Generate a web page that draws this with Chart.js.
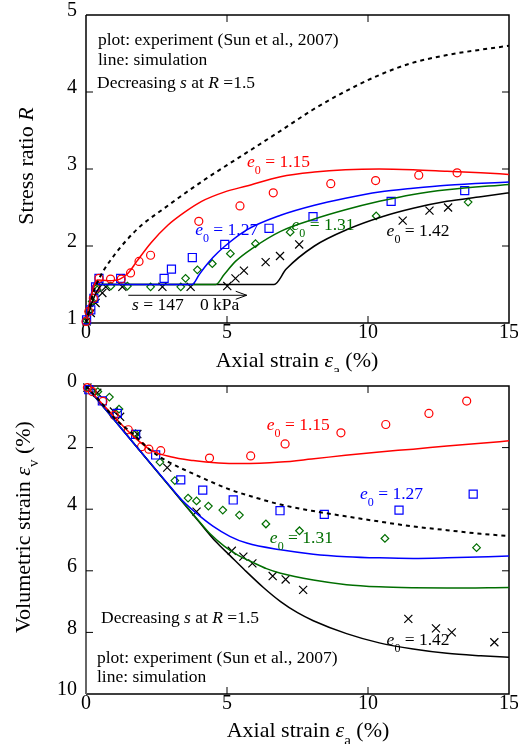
<!DOCTYPE html>
<html lang="en">
<head>
<meta charset="UTF-8">
<title>Stress ratio and volumetric strain vs axial strain</title>
<script src="https://cdn.jsdelivr.net/npm/chart.js@4.4.0/dist/chart.umd.min.js"></script>
<style>
    body { margin: 0; background: #fff; }
    #wrap { position: relative; width: 518px; height: 744px; }
    canvas { position: absolute; left: 0; }
    #topChart { top: 0; }
    #botChart { top: 372px; }
</style>
</head>
<body>
<div id="wrap">
    <canvas id="topChart" width="518" height="372"></canvas>
    <canvas id="botChart" width="518" height="372"></canvas>
</div>
<script>
// axis ticks
const strainTicks = [0, 5, 10, 15];
const rTicks = [1, 2, 3, 4, 5];
const evTicks = [0, 2, 4, 6, 8, 10];

// ---- top panel: stress ratio R, experiment (Sun et al., 2007) ----
const topRedX = [0, 0.1, 0.26, 0.35, 0.46, 0.87, 1.25, 1.58, 1.88, 2.29, 4.0, 5.46, 6.64, 8.68, 10.27, 11.8, 13.16];
const topRedY = [1.02, 1.15, 1.32, 1.45, 1.58, 1.57, 1.57, 1.65, 1.8, 1.88, 2.32, 2.52, 2.69, 2.81, 2.85, 2.92, 2.95];
const topBlueX = [0.02, 0.17, 0.28, 0.34, 0.46, 1.23, 2.77, 3.03, 3.77, 4.92, 6.49, 8.05, 10.82, 13.43];
const topBlueY = [1.04, 1.17, 1.32, 1.47, 1.58, 1.58, 1.58, 1.7, 1.85, 2.02, 2.23, 2.38, 2.58, 2.72];
const topGreenX = [0.02, 0.11, 0.22, 0.4, 0.88, 1.47, 2.29, 3.36, 3.53, 3.95, 4.48, 5.12, 6.01, 7.24, 10.29, 13.55];
const topGreenY = [1.03, 1.15, 1.28, 1.43, 1.48, 1.48, 1.47, 1.47, 1.58, 1.69, 1.77, 1.9, 2.03, 2.18, 2.39, 2.57];
const topBlackX = [0.02, 0.17, 0.34, 0.58, 0.7, 1.29, 2.71, 3.71, 5.01, 5.3, 5.6, 6.37, 6.88, 7.56, 11.23, 12.18, 12.84];
const topBlackY = [1.02, 1.13, 1.26, 1.39, 1.47, 1.47, 1.47, 1.47, 1.48, 1.58, 1.68, 1.79, 1.87, 2.02, 2.33, 2.46, 2.5];

// top panel, simulation
const topRedLineX = [0, 0.15, 0.4, 0.8, 1.2, 1.5, 1.8, 2.3, 2.9, 3.5, 4.1, 4.9, 5.7, 6.9, 8.1, 9.2, 10.4, 11.6, 12.8, 14, 15];
const topRedLineY = [1, 1.3, 1.56, 1.55, 1.57, 1.65, 1.8, 2.04, 2.27, 2.44, 2.58, 2.7, 2.78, 2.9, 2.96, 2.99, 3.0, 2.99, 2.97, 2.95, 2.93];
const topBlueLineX = [0, 0.15, 0.3, 0.5, 3.76, 4.0, 4.2, 4.5, 4.9, 5.7, 6.9, 8.1, 9.2, 10.4, 11.6, 12.8, 15];
const topBlueLineY = [1, 1.3, 1.52, 1.5, 1.5, 1.62, 1.72, 1.85, 1.99, 2.21, 2.4, 2.53, 2.62, 2.7, 2.75, 2.79, 2.83];
const topGreenLineX = [0, 0.15, 0.3, 0.5, 4.6, 4.9, 5.3, 5.9, 6.9, 8.1, 9.2, 10.4, 11.6, 12.8, 15];
const topGreenLineY = [1, 1.28, 1.48, 1.5, 1.5, 1.63, 1.8, 1.97, 2.19, 2.35, 2.47, 2.58, 2.67, 2.73, 2.8];
const topBlackLineX = [0, 0.2, 0.4, 0.6, 6.67, 7.1, 8.1, 9.3, 10.5, 11.6, 12.8, 14, 15];
const topBlackLineY = [1, 1.25, 1.42, 1.5, 1.5, 1.7, 2.0, 2.22, 2.38, 2.49, 2.58, 2.64, 2.69];
const topDashX = [0, 0.25, 0.5, 1, 1.5, 2, 2.7, 3.3, 4.2, 5, 5.9, 7, 8, 9, 10.4, 11.5, 12.8, 14, 15];
const topDashY = [1, 1.38, 1.6, 1.88, 2.1, 2.28, 2.47, 2.63, 2.86, 3.05, 3.26, 3.52, 3.76, 3.97, 4.22, 4.37, 4.48, 4.55, 4.6];

// ---- bottom panel: volumetric strain, experiment ----
const botRedX = [0.05, 0.22, 0.6, 1.0, 1.5, 1.97, 2.23, 2.65, 4.38, 5.84, 7.06, 9.04, 10.63, 12.16, 13.5];
const botRedY = [0.05, 0.18, 0.5, 0.95, 1.42, 1.97, 2.05, 2.1, 2.34, 2.27, 1.88, 1.52, 1.25, 0.89, 0.49];
const botBlueX = [0.1, 0.58, 1.11, 1.76, 2.47, 3.36, 4.14, 5.22, 6.88, 8.45, 11.1, 13.73];
const botBlueY = [0.12, 0.48, 0.89, 1.57, 2.24, 3.05, 3.38, 3.7, 4.05, 4.17, 4.03, 3.51];
const botGreenX = [0.1, 0.42, 0.83, 1.17, 1.76, 2.62, 3.15, 3.62, 3.92, 4.34, 4.85, 5.44, 6.38, 7.57, 10.6, 13.85];
const botGreenY = [0.08, 0.18, 0.36, 0.75, 1.55, 2.47, 3.07, 3.64, 3.73, 3.9, 4.03, 4.19, 4.48, 4.7, 4.95, 5.25];
const botBlackX = [0.05, 0.4, 0.99, 1.21, 1.82, 2.88, 3.92, 5.17, 5.58, 5.9, 6.62, 7.08, 7.7, 11.43, 12.41, 12.97, 14.48];
const botBlackY = [0.05, 0.22, 0.83, 1.0, 1.56, 2.65, 4.08, 5.35, 5.54, 5.76, 6.17, 6.28, 6.62, 7.56, 7.87, 8.0, 8.32];

// bottom panel, simulation
const botRedLineX = [0, 0.5, 1.1, 1.7, 2.3, 3.0, 3.8, 4.7, 5.5, 6.9, 8.0, 9.2, 10.4, 11.6, 12.8, 14, 15];
const botRedLineY = [0, 0.5, 1.1, 1.65, 2.08, 2.3, 2.42, 2.5, 2.52, 2.47, 2.37, 2.25, 2.14, 2.05, 1.95, 1.86, 1.78];
const botBlueLineX = [0, 1, 2, 3, 3.4, 3.9, 4.5, 5.1, 5.7, 6.9, 8.06, 9.24, 10.4, 11.6, 12.8, 15];
const botBlueLineY = [0, 1.1, 2.2, 3.28, 3.7, 4.12, 4.55, 4.88, 5.1, 5.32, 5.46, 5.54, 5.58, 5.6, 5.58, 5.52];
const botGreenLineX = [0, 1, 2, 3, 4, 4.4, 4.9, 5.4, 5.9, 6.4, 6.9, 8.06, 9.24, 10.4, 11.6, 12.8, 15];
const botGreenLineY = [0, 1.1, 2.2, 3.3, 4.38, 4.8, 5.2, 5.5, 5.72, 5.93, 6.08, 6.3, 6.45, 6.52, 6.55, 6.56, 6.54];
const botBlackLineX = [0, 1, 2, 3, 4, 4.6, 5.1, 5.6, 6.3, 6.9, 7.5, 8.06, 9.24, 10.4, 11.6, 12.8, 14, 15];
const botBlackLineY = [0, 1.1, 2.2, 3.3, 4.4, 5.05, 5.5, 5.95, 6.55, 7.0, 7.36, 7.62, 8.04, 8.34, 8.54, 8.68, 8.76, 8.81];
const botDashX = [0, 0.5, 1.1, 1.6, 2.3, 2.9, 3.9, 5.1, 6.0, 6.9, 8.0, 9.2, 10.4, 11.6, 12.8, 14, 15];
const botDashY = [0, 0.5, 1.13, 1.5, 2.1, 2.45, 2.89, 3.36, 3.62, 3.85, 4.05, 4.23, 4.4, 4.56, 4.68, 4.8, 4.87];

const SERIF = '"Liberation Serif", "Times New Roman", serif';
const RED = '#ff0000', BLUE = '#0000ff', GREEN = '#006e00', BLACK = '#000000';

const pts = (xs, ys) => xs.map((x, i) => ({ x: x, y: ys[i] }));

function marks(xs, ys, color, style, radius) {
    return {
        data: pts(xs, ys), showLine: false, pointStyle: style, pointRadius: radius,
        borderColor: color, backgroundColor: 'rgba(0,0,0,0)', borderWidth: 1.2, clip: 10
    };
}

function curve(xs, ys, color, dashed) {
    return {
        data: pts(xs, ys), showLine: true, borderColor: color, borderWidth: dashed ? 2 : 1.5,
        borderDash: dashed ? [4, 4] : [], pointRadius: 0, cubicInterpolationMode: 'monotone'
    };
}

// text with italic / subscript runs, e.g. [['e','i'],['0','sub'],[' = 1.15','n']]
function drawRich(ctx, runs, x, y, size, color, align) {
    const fontFor = st => (st === 'i' ? 'italic ' : '') + (st === 'sub' ? Math.round(size * 0.7) : size) + 'px ' + SERIF;
    let w = 0;
    runs.forEach(r => { ctx.font = fontFor(r[1]); w += ctx.measureText(r[0]).width; });
    let cx = align === 'center' ? x - w / 2 : x;
    ctx.fillStyle = color;
    ctx.textAlign = 'left';
    ctx.textBaseline = 'middle';
    runs.forEach(r => {
        ctx.font = fontFor(r[1]);
        ctx.fillText(r[0], cx, r[1] === 'sub' ? y + size * 0.48 : y);
        cx += ctx.measureText(r[0]).width;
    });
}

const e0 = v => [['e', 'i'], ['0', 'sub'], [' = ' + v, 'n']];

// frame with inward ticks, axis titles and notes
const panelPlugin = {
    id: 'panel',
    beforeDatasetsDraw(chart, args, opts) {
        const ctx = chart.ctx, a = chart.chartArea, sx = chart.scales.x, sy = chart.scales.y;
        ctx.save();
        ctx.lineWidth = 1.5;
        ctx.strokeStyle = BLACK;
        ctx.beginPath();
        ctx.moveTo(a.left, a.bottom); ctx.lineTo(a.right, a.bottom);
        ctx.lineTo(a.right, a.top); ctx.lineTo(a.left, a.top);
        ctx.stroke();
        ctx.strokeStyle = opts.leftColor || BLACK;
        ctx.lineWidth = opts.leftWidth || 1.5;
        ctx.beginPath();
        ctx.moveTo(a.left, a.top); ctx.lineTo(a.left, a.bottom);
        ctx.stroke();
        ctx.strokeStyle = BLACK;
        ctx.lineWidth = 1;
        const len = 7;
        ctx.beginPath();
        sx.ticks.forEach(t => {
            if (t.value === sx.min || t.value === sx.max) return;
            const px = sx.getPixelForValue(t.value);
            ctx.moveTo(px, a.bottom); ctx.lineTo(px, a.bottom - len);
            ctx.moveTo(px, a.top); ctx.lineTo(px, a.top + len);
        });
        sy.ticks.forEach(t => {
            if (t.value === sy.min || t.value === sy.max) return;
            const py = sy.getPixelForValue(t.value);
            ctx.moveTo(a.left, py); ctx.lineTo(a.left + len, py);
            ctx.moveTo(a.right, py); ctx.lineTo(a.right - len, py);
        });
        ctx.stroke();
        ctx.restore();
    },
    afterDatasetsDraw(chart, args, opts) {
        const ctx = chart.ctx, a = chart.chartArea, sx = chart.scales.x, sy = chart.scales.y;
        ctx.save();
        // axis titles
        drawRich(ctx, opts.xTitle, opts.xTitlePos[0], opts.xTitlePos[1], 22, BLACK, 'center');
        ctx.translate(opts.yTitlePos[0], opts.yTitlePos[1]);
        ctx.rotate(-Math.PI / 2);
        drawRich(ctx, opts.yTitle, 0, 0, 22, BLACK, 'center');
        ctx.setTransform(1, 0, 0, 1, 0, 0);
        // notes: data position or offset from the plot corner
        (opts.notes || []).forEach(n => {
            let x, y;
            if (n.data) {
                x = sx.getPixelForValue(n.data[0]);
                y = sy.getPixelForValue(n.data[1]);
            } else {
                x = a.left + n.off[0];
                y = n.off[1] >= 0 ? a.top + n.off[1] : a.bottom + n.off[1];
            }
            drawRich(ctx, n.runs, x, y, 17.5, n.color || BLACK, 'left');
        });
        // arrow for the suction path
        if (opts.arrow) {
            const [x0, x1, yv] = opts.arrow;
            const p0 = sx.getPixelForValue(x0), p1 = sx.getPixelForValue(x1), py = sy.getPixelForValue(yv);
            ctx.strokeStyle = BLACK;
            ctx.lineWidth = 1;
            ctx.beginPath();
            ctx.moveTo(p0, py); ctx.lineTo(p1, py);
            ctx.moveTo(p1 - 11, py - 4); ctx.lineTo(p1, py); ctx.lineTo(p1 - 11, py + 4);
            ctx.stroke();
        }
        ctx.restore();
    }
};

function scalesFor(yMin, yMax, yTicks, reverse, xHeight) {
    return {
        x: {
            type: 'linear', min: 0, max: 15,
            afterBuildTicks: s => { s.ticks = strainTicks.map(v => ({ value: v })); },
            afterFit: s => { s.height = xHeight; s.paddingLeft = 0; s.paddingRight = 0; },
            grid: { display: false, drawTicks: false },
            border: { display: false },
            ticks: { color: BLACK, padding: 0, font: { family: SERIF, size: 20, lineHeight: 1 }, maxRotation: 0 }
        },
        y: {
            type: 'linear', min: yMin, max: yMax, reverse: reverse,
            afterBuildTicks: s => { s.ticks = yTicks.map(v => ({ value: v })); },
            afterFit: s => { s.width = 86; s.paddingTop = 0; s.paddingBottom = 0; },
            grid: { display: false, drawTicks: false },
            border: { display: false },
            ticks: { color: BLACK, padding: 9, labelOffset: -4, font: { family: SERIF, size: 20, lineHeight: 1 } }
        }
    };
}

const commonPlugins = { legend: { display: false }, tooltip: { enabled: false } };

new Chart(document.getElementById('topChart'), {
    type: 'scatter',
    data: {
        datasets: [
            curve(topDashX, topDashY, BLACK, true),
            curve(topRedLineX, topRedLineY, RED),
            curve(topBlueLineX, topBlueLineY, BLUE),
            curve(topGreenLineX, topGreenLineY, GREEN),
            curve(topBlackLineX, topBlackLineY, BLACK),
            marks(topRedX, topRedY, RED, 'circle', 4),
            marks(topBlueX, topBlueY, BLUE, 'rect', 5.7),
            marks(topGreenX, topGreenY, GREEN, 'rectRot', 3.8),
            marks(topBlackX, topBlackY, BLACK, 'crossRot', 5.7)
        ]
    },
    options: {
        responsive: false,
        animation: false,
        layout: { padding: { top: 15, right: 9, left: 0, bottom: 0 } },
        scales: scalesFor(1, 5, rTicks, false, 49),
        plugins: Object.assign({}, commonPlugins, {
            panel: {
                xTitle: [['Axial strain ', 'n'], ['\u03B5', 'i'], ['a', 'sub'], [' (%)', 'n']],
                xTitlePos: [297, 361],
                yTitle: [['Stress ratio ', 'n'], ['R', 'i']],
                yTitlePos: [27, 166],
                notes: [
                    { off: [12, 25], runs: [['plot: experiment (Sun et al., 2007)', 'n']] },
                    { off: [12, 45], runs: [['line: simulation', 'n']] },
                    { off: [11, 68], runs: [['Decreasing ', 'n'], ['s', 'i'], [' at ', 'n'], ['R', 'i'], [' =1.5', 'n']] },
                    { data: [5.71, 3.09], runs: e0('1.15'), color: RED },
                    { data: [3.87, 2.2], runs: e0('1.27'), color: BLUE },
                    { data: [7.29, 2.27], runs: e0('1.31'), color: GREEN },
                    { data: [10.66, 2.19], runs: e0('1.42'), color: BLACK },
                    { data: [1.63, 1.23], runs: [['s', 'i'], [' = 147', 'n']] },
                    { data: [4.04, 1.23], runs: [['0 kPa', 'n']] }
                ],
                arrow: [1.5, 5.7, 1.36]
            }
        })
    },
    plugins: [panelPlugin]
});

new Chart(document.getElementById('botChart'), {
    type: 'scatter',
    data: {
        datasets: [
            curve(botDashX, botDashY, BLACK, true),
            curve(botRedLineX, botRedLineY, RED),
            curve(botBlueLineX, botBlueLineY, BLUE),
            curve(botGreenLineX, botGreenLineY, GREEN),
            curve(botBlackLineX, botBlackLineY, BLACK),
            marks(botRedX, botRedY, RED, 'circle', 4),
            marks(botBlueX, botBlueY, BLUE, 'rect', 5.7),
            marks(botGreenX, botGreenY, GREEN, 'rectRot', 3.8),
            marks(botBlackX, botBlackY, BLACK, 'crossRot', 5.7)
        ]
    },
    options: {
        responsive: false,
        animation: false,
        layout: { padding: { top: 14, right: 9, left: 0, bottom: 0 } },
        scales: scalesFor(0, 10, evTicks, true, 50),
        plugins: Object.assign({}, commonPlugins, {
            panel: {
                leftColor: '#666666',
                leftWidth: 2,
                xTitle: [['Axial strain ', 'n'], ['\u03B5', 'i'], ['a', 'sub'], [' (%)', 'n']],
                xTitlePos: [308, 359],
                yTitle: [['Volumetric strain ', 'n'], ['\u03B5', 'i'], ['v', 'sub'], [' (%)', 'n']],
                yTitlePos: [24, 155],
                notes: [
                    { data: [6.41, 1.27], runs: e0('1.15'), color: RED },
                    { data: [9.72, 3.51], runs: e0('1.27'), color: BLUE },
                    { data: [6.52, 4.95], runs: e0('1.31'), color: GREEN },
                    { data: [10.66, 8.25], runs: e0('1.42'), color: BLACK },
                    { off: [15, -76], runs: [['Decreasing ', 'n'], ['s', 'i'], [' at ', 'n'], ['R', 'i'], [' =1.5', 'n']] },
                    { off: [11, -36], runs: [['plot: experiment (Sun et al., 2007)', 'n']] },
                    { off: [11, -17], runs: [['line: simulation', 'n']] }
                ]
            }
        })
    },
    plugins: [panelPlugin]
});
</script>
</body>
</html>
